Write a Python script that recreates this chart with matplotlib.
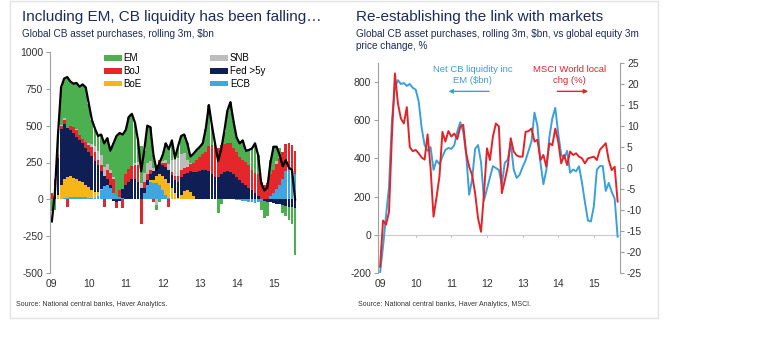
import numpy as np
import matplotlib
matplotlib.use("Agg")
import matplotlib.pyplot as plt
from matplotlib.patches import Patch, Rectangle, FancyArrowPatch

plt.rcParams['font.family'] = ['Liberation Sans', 'DejaVu Sans']
plt.rcParams['axes.unicode_minus'] = False

# Monthly central bank asset purchases, rolling 3m, $bn (Jan 2009 - Aug 2015)
ecb = [0, 0, 0, 5, 10, 12, 15, 15, 15, 15, 15, 15,
       12, 10, 10, 25, 60, 90, 100, 80, 40, 20, 15, 10,
       5, 5, 5, 5, 5, 0, 40, 100, 120, 110, 110, 100,
       60, 30, 10, 5, 0, 0, 0, 0, 0, 0, 0, 0,
       0, 0, 0, 0, 0, 0, -5, -5, 0, 0, 0, 0,
       -5, -5, -10, -10, -15, -20, -25, -20, -10, 0, 0, 20,
       40, 70, 100, 140, 190, 200, 195, 175]
boe = [0, 0, 30, 90, 130, 140, 140, 130, 120, 110, 100, 85,
       70, 55, 40, 25, 10, 0, 0, 0, 0, 0, 0, 0,
       0, 0, 0, 0, 0, 0, 0, 0, 10, 20, 45, 70,
       100, 110, 100, 70, 40, 10, 30, 55, 60, 50, 25, 5,
       0, 0, 0, 0, 0, 0, 0, 0, 0, 0, 0, 0,
       0, 0, 0, 0, 0, 0, 0, 0, 0, 0, 0, 0,
       0, 0, 0, 0, 0, 0, 0, 0]
fed = [0, 30, 250, 380, 370, 330, 315, 305, 285, 275, 265, 250,
       240, 230, 210, 180, 120, 70, 40, 20, -10, -20, -10, 60,
       90, 110, 130, 130, 110, 80, 40, 30, 40, 60, 60, 70,
       70, 80, 90, 90, 90, 110, 120, 120, 120, 140, 160, 180,
       190, 200, 200, 190, 170, 150, 150, 170, 185, 190, 185, 170,
       150, 130, 110, 95, 80, 60, 40, 20, 5, -10, -20, -20,
       -25, -30, -35, -40, -45, -50, -55, -60]
boj = [40, 110, 30, 20, 30, -50, 30, 40, 50, 40, 30, 40,
       50, 60, 60, 40, 40, -50, 60, 80, 100, -40, 50, -60,
       80, 90, 90, 100, 120, -170, 40, 40, 30, -20, 20, 30,
       20, 30, -50, 20, 30, 40, 50, 40, 40, 50, 60, 80,
       100, 110, 120, 170, 200, 210, 200, 200, 190, 190, 200, 180,
       170, 160, 160, 160, 150, 140, 140, 150, 110, 100, 110, 150,
       160, 170, 180, 180, 185, 180, 175, 150]
snb = [0, 0, 0, 10, 15, 0, 0, 0, 5, 0, 0, 0,
       10, 20, 40, 60, 70, 60, 40, 20, 10, 0, 0, 0,
       0, 0, 0, 10, 20, 30, 60, 80, 60, 20, -40, 0,
       10, 20, 40, 80, 110, 120, 110, 100, 50, 10, 0, 0,
       0, 0, 0, 0, 0, 0, 0, 0, 0, 0, 0, 0,
       0, 0, 0, 0, 0, 0, 0, 0, 0, 0, 0, 0,
       0, 20, 10, 0, 0, 0, 0, 0]
em = [-80, -70, 130, 255, 265, 348, 300, 295, 315, 325, 370, 370,
      268, 165, 120, 100, 140, 160, 175, 130, 230, 410, 385, 370,
      295, 355, 355, 275, 145, 250, 150, 250, 230, 90, -30, -20,
      40, 110, 100, 135, 10, 80, 120, 125, 110, 40, 65, 70,
      65, 70, 160, 280, 130, 20, -85, -25, 85, 220, 275, 180,
      100, 90, 130, 75, 105, 145, 200, 130, -60, -120, -90, 100,
      160, 100, 60, -50, -70, -90, -110, -320]
net_total = [-150, 50, 440, 760, 820, 830, 800, 785, 790, 765, 780, 760,
             650, 540, 480, 430, 440, 380, 415, 330, 380, 430, 450, 440,
             470, 560, 580, 520, 400, 190, 330, 500, 490, 300, 200, 250,
             300, 380, 340, 400, 280, 360, 430, 440, 380, 290, 310, 335,
             355, 380, 480, 640, 500, 380, 260, 340, 460, 600, 660, 530,
             420, 380, 400, 330, 335, 345, 380, 300, 110, 60, 80, 250,
             357, 357, 300, 225, 266, 215, 200, 0]

# Right panel: net CB liquidity ($bn) vs MSCI World 3m change (%), Jan 2009 - Sep 2015
net_liquidity = [-200, -60, 100, 250, 600, 770, 810, 790, 795, 780, 790, 770,
                 760, 700, 560, 470, 440, 460, 340, 390, 370, 410, 445, 455,
                 450, 470, 540, 590, 540, 420, 210, 290, 450, 470, 380, 180,
                 240, 300, 360, 350, 340, 263, 377, 394, 480, 342, 298, 315,
                 355, 390, 440, 490, 640, 570, 380, 265, 340, 510, 610, 665,
                 530, 420, 400, 440, 325, 342, 333, 359, 272, 170, 75, 70,
                 150, 340, 360, 360, 230, 272, 225, 190, -10]
msci_chg = [-23.5, -12.5, -13.5, -10.5, 8, 22.5, 15.4, 11.8, 10.6, 14.5, 5, 4,
            4.3, 3.5, 2.5, 2, 8, 0, -11.6, -7, -2, 8.6, 6.3, 8.8,
            7.5, 8.2, 6.9, 9.8, 10.3, 3.5, 0.3, -1.7, -6, -12, -15.2, -6,
            4.7, 1.9, 7.5, 10.6, 9.9, -6, -3, 0.3, 7.1, 3.9, 3, 2.7,
            2.7, 8.6, 8.8, 9.4, 6.3, 6.7, 1.9, 3.1, 0.3, 5.9, 5.4, 9.4,
            6.3, 1.1, 3.1, 0.7, 3.9, 3.1, 3.5, 2.7, 2.3, 1.1, 2.3, 2.5,
            2.7, 1.9, 4.3, 5.1, 5.9, 1.9, -0.5, 0.3, -8]

year_labels = ['09', '10', '11', '12', '13', '14', '15']

NAVY = '#1c2b5e'
TXT = '#333333'
AXC = '#a0a0a0'

W, H = 759, 341
fig = plt.figure(figsize=(W / 100, H / 100), dpi=100)


def px_axes(x0, y0, x1, y1):
    return fig.add_axes([x0 / W, 1 - y1 / H, (x1 - x0) / W, (y1 - y0) / H])


# light frame round the whole exhibit
fig.patches.append(Rectangle((10 / W, 1 - 318 / H), 648 / W, 317 / H,
                             transform=fig.transFigure, fill=False,
                             edgecolor='#e2e2e2', lw=1))

# ---- left panel: stacked bars ----
series = [('ECB', ecb, '#3ea7e1'), ('BoE', boe, '#f6b519'), ('Fed >5y', fed, '#0f1f55'),
          ('BoJ', boj, '#e5262b'), ('SNB', snb, '#bdbdbd'), ('EM', em, '#4caf50')]
months = np.arange(len(net_total))

ax1 = px_axes(50, 52, 300, 273)
pos_base = np.zeros(len(months))
neg_base = np.zeros(len(months))
handles = {}
for name, vals, col in series:
    v = np.array(vals, dtype=float)
    p = np.where(v > 0, v, 0)
    n = np.where(v < 0, v, 0)
    ax1.bar(months, p, bottom=pos_base, width=0.92, color=col, linewidth=0)
    ax1.bar(months, n, bottom=neg_base, width=0.92, color=col, linewidth=0)
    pos_base += p
    neg_base += n
    handles[name] = Patch(facecolor=col)
ax1.plot(months, net_total, color='black', lw=1.6)

ax1.set_xlim(-0.6, 80.6)
ax1.set_ylim(-500, 1000)
ax1.set_yticks(range(-500, 1001, 250))
ax1.set_xticks(range(0, 80, 12))
ax1.set_xticklabels(year_labels)
for s in ['top', 'right', 'bottom']:
    ax1.spines[s].set_visible(False)
ax1.spines['left'].set_color(AXC)
ax1.tick_params(axis='y', colors=AXC, labelcolor=TXT, labelsize=7.5, length=3, pad=2)
ax1.tick_params(axis='x', length=0, labelcolor=TXT, labelsize=7.5, pad=4)

order = ['EM', 'BoJ', 'BoE', 'SNB', 'Fed >5y', 'ECB']
ax1.legend([handles[k] for k in order], order, ncol=2, loc='upper left',
           bbox_to_anchor=(0.215, 0.995), frameon=False, fontsize=7,
           handlelength=1.9, handleheight=0.55, handletextpad=0.15,
           labelspacing=0.3, columnspacing=7.0, borderpad=0, borderaxespad=0)

fig.text(22 / W, 1 - 17 / H, 'Including EM, CB liquidity has been falling…',
         color=NAVY, fontsize=11, va='center')
fig.text(22 / W, 1 - 34 / H, 'Global CB asset purchases, rolling 3m, $bn',
         color=NAVY, fontsize=7.2, va='center')
fig.text(16 / W, 1 - 304 / H, 'Source: National central banks, Haver Analytics.',
         color=TXT, fontsize=5, va='center')

# ---- right panel: liquidity vs equities ----
ax2 = px_axes(378, 63, 620, 273)
ax3 = ax2.twinx()
xr = np.arange(len(net_liquidity))
ax2.plot(xr, net_liquidity, color='#3b9fdc', lw=1.4)
ax3.plot(xr, msci_chg, color='#e42329', lw=1.4)
ax2.axhline(0, color='#c8c8c8', lw=0.8, zorder=0)
for t in range(12, 80, 12):
    ax2.plot([t, t], [0, -12], color='#c8c8c8', lw=0.8, zorder=0)

ax2.set_xlim(-0.7, 80.8)
ax2.set_ylim(-200, 900)
ax3.set_ylim(-25, 25)
ax2.set_yticks(range(-200, 801, 200))
ax3.set_yticks(range(-25, 26, 5))
ax2.set_xticks(range(0, 80, 12))
ax2.set_xticklabels(year_labels)
for a in (ax2, ax3):
    for s in ['top', 'bottom']:
        a.spines[s].set_visible(False)
    a.spines['left'].set_color(AXC)
    a.spines['right'].set_color(AXC)
ax2.spines['right'].set_visible(False)
ax3.spines['left'].set_visible(False)
ax2.tick_params(axis='y', colors=AXC, labelcolor=TXT, labelsize=7.5, length=3, pad=2)
ax3.tick_params(axis='y', colors=AXC, labelcolor=TXT, labelsize=7.5, length=3, pad=2)
ax2.tick_params(axis='x', length=0, labelcolor=TXT, labelsize=7.5, pad=4)

ax2.text(0.39, 0.945, 'Net CB liquidity inc\nEM ($bn)', transform=ax2.transAxes,
         color='#3b9fdc', fontsize=6.8, ha='center', va='center', linespacing=1.3)
ax2.text(0.79, 0.945, 'MSCI World local\nchg (%)', transform=ax2.transAxes,
         color='#e42329', fontsize=6.8, ha='center', va='center', linespacing=1.3)
ax2.add_patch(FancyArrowPatch((0.47, 0.865), (0.28, 0.865), transform=ax2.transAxes,
                              arrowstyle='-|>', mutation_scale=6, color='#3b9fdc', lw=1))
ax2.add_patch(FancyArrowPatch((0.73, 0.865), (0.88, 0.865), transform=ax2.transAxes,
                              arrowstyle='-|>', mutation_scale=6, color='#e42329', lw=1))

fig.text(356 / W, 1 - 17 / H, 'Re-establishing the link with markets',
         color=NAVY, fontsize=11, va='center')
fig.text(356 / W, 1 - 40 / H,
         'Global CB asset purchases, rolling 3m, $bn, vs global equity 3m\nprice change, %',
         color=NAVY, fontsize=7.2, va='center', linespacing=1.2)
fig.text(358 / W, 1 - 304 / H, 'Source: National central banks, Haver Analytics, MSCI.',
         color=TXT, fontsize=5, va='center')

fig.savefig('out.png', dpi=100)
